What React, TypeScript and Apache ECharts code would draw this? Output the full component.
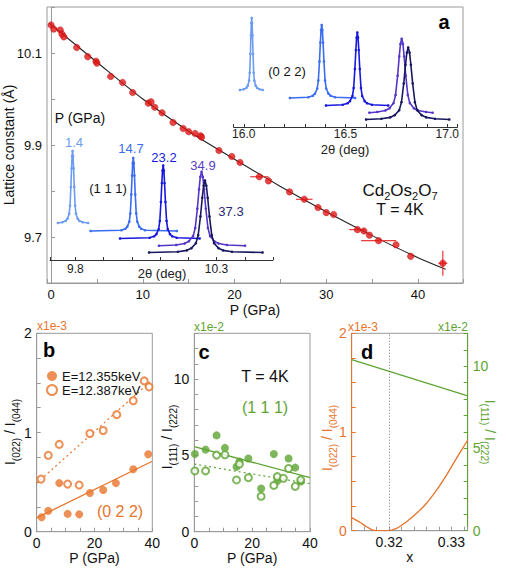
import React, { useEffect, useRef } from 'react';
import * as echarts from 'echarts';

const FONT = '"Liberation Sans", Arial, Helvetica, sans-serif';
const ORANGE = '#e8742c';
const GREEN = '#5ea432';
const RED = '#e01818';
const FRAME = '#9a9a9a';

// ---------- Panel a : lattice constant vs pressure ----------
const pressureA = [0.0, 0.3, 1.0, 1.2, 1.4, 2.8, 4.0, 4.9, 5.0, 6.5, 7.8, 8.9, 10.6, 10.9, 11.3, 12.1, 13.3, 14.4, 15.0, 15.7, 16.3, 16.4, 18.3, 19.7, 20.6, 22.7, 23.7, 26.0, 27.6, 29.1, 30.0, 30.8, 33.4, 34.1, 34.7, 35.7, 37.6, 39.2, 42.7];
const latticeA = [10.161, 10.152, 10.150, 10.141, 10.135, 10.112, 10.092, 10.082, 10.078, 10.049, 10.036, 10.014, 9.991, 9.994, 9.982, 9.970, 9.949, 9.936, 9.929, 9.925, 9.920, 9.917, 9.888, 9.875, 9.862, 9.831, 9.822, 9.798, 9.782, 9.764, 9.753, 9.749, 9.716, 9.713, 9.704, 9.692, 9.683, 9.658, 9.643];
const fitP = [-0.2, 5, 10, 15, 20, 25, 30, 35, 40, 43];
const fitA = [10.165, 10.080, 10.000, 9.930, 9.869, 9.810, 9.755, 9.703, 9.655, 9.630];
const errP = [22.7, 27.6, 33.4, 35.7, 42.7];
const errA = [9.831, 9.782, 9.716, 9.692, 9.643];
const errDP = [1.0, 0.9, 0.9, 1.9, 0.5];
const errDA = [0, 0, 0, 0, 0.027];

// ---------- Insets : diffraction peaks ----------
const peakLabels = ['1.4', '14.7', '23.2', '34.9', '37.3'];
const peak111Center = [9.790, 10.005, 10.111, 10.247, 10.259];
const peak111Start = [9.738, 9.854, 9.958, 10.096, 10.061];
const peak111End = [9.845, 10.159, 10.240, 10.401, 10.463];
const peak111Width = [0.006, 0.007, 0.008, 0.015, 0.016];
const peak022Center = [16.039, 16.383, 16.558, 16.776, 16.808];
const peak022Start = [15.981, 16.227, 16.404, 16.617, 16.601];
const peak022End = [16.093, 16.547, 16.710, 16.928, 17.010];
const peak022Width = [0.0065, 0.011, 0.012, 0.020, 0.022];
const peakBase = [37, 29, 21.5, 14.3, 7.5];
const peakHeight = [72, 73, 73, 74, 72];
const profileOffset = [-6, -4, -3, -2, -1.5, -1, -0.6, -0.3, 0, 0.3, 0.6, 1, 1.5, 2, 3, 4, 6];
const profileValue = [0.01, 0.03, 0.06, 0.13, 0.24, 0.5, 0.76, 0.93, 1, 0.93, 0.76, 0.5, 0.24, 0.13, 0.06, 0.03, 0.01];

// ---------- Panel b ----------
const pB = [1.7, 4.0, 7.8, 10.7, 14.7, 18.4, 23.0, 27.4, 33.4, 38.6];
const bFilled = [0.145, 0.21, 0.49, 0.18, 0.175, 0.39, 0.42, 0.49, 0.63, 0.78];
const pBOpen = [1.5, 4.0, 7.8, 10.7, 14.7, 18.4, 23.0, 27.7, 33.4, 37.2, 38.9];
const bOpen = [0.53, 0.77, 0.88, 0.48, 0.47, 0.99, 1.02, 1.18, 1.32, 1.52, 1.46];
const fitBP = [0, 40];
const fitBFilled = [0.14, 0.71];
const fitBOpen = [0.49, 1.53];

// ---------- Panel c ----------
const pC = [0.2, 3.9, 7.7, 10.6, 14.6, 15.6, 18.7, 23.1, 27.5, 28.7, 32.6, 34.9, 36.8];
const cFilled = [5.09, 5.38, 6.31, 5.49, 4.25, 4.6, 4.8, 2.83, 5.09, 3.32, 4.8, 4.2, 3.28];
const pCOpen = [0.2, 3.9, 7.7, 10.6, 14.6, 15.6, 18.7, 23.1, 27.5, 28.7, 30.8, 32.6, 34.9, 36.8];
const cOpen = [3.98, 3.98, 5.02, 5.04, 3.39, 4.43, 3.54, 2.32, 3.03, 3.61, 3.5, 4.14, 2.97, 3.4];
const fitCP = [0, 40];
const fitCFilled = [5.57, 3.54];
const fitCOpen = [4.43, 3.14];

// ---------- Panel d ----------
const xD = [0.314, 0.3153, 0.3164, 0.3174, 0.3185, 0.3198, 0.3212, 0.3228, 0.3244, 0.3260, 0.3276, 0.3292, 0.3308, 0.3326];
const dOrange = [0.132, 0.085, 0.04, 0.007, 0, 0, 0.024, 0.09, 0.176, 0.278, 0.41, 0.564, 0.733, 0.919];
const xDGreen = [0.314, 0.3326];
const dGreen = [10.4, 8.2];
const dMarkX = [0.32];

const peakColors = ['#6b9cf0', '#3a6cf2', '#1818dd', '#5535c8', '#17175e'];
const labelColors = ['#6b9cf0', '#3a6cf2', '#1818dd', '#5a3cc8', '#2a2a72'];

function peakData(c: number, w: number, s: number, e: number, base: number, h: number) {
  const pts: number[][] = [[s, base]];
  for (let k = 0; k < profileOffset.length; k++) {
    const x = c + profileOffset[k] * w;
    if (x > s && x < e) pts.push([x, base + profileValue[k] * h]);
  }
  pts.push([e, base]);
  return pts;
}

const zip = (a: number[], b: number[]) => a.map((v, i) => [v, b[i]]);

function txt(x: number, y: number, text: string, size: number, color: string, extra: any = {}) {
  return {
    type: 'text', x, y, silent: true, z: 100,
    style: { text, fontSize: size, fontFamily: FONT, fill: color, align: 'center', verticalAlign: 'middle', ...extra },
  };
}

function ratio(x: number, y: number, a: string, b: string, color: string, rot: number) {
  return {
    type: 'text', x, y, rotation: rot, silent: true, z: 100,
    style: {
      text: `{m|I}{s|${a}}{m| / I}{s|${b}}`,
      align: 'center', verticalAlign: 'middle',
      rich: {
        m: { fontSize: 14, lineHeight: 22, verticalAlign: 'middle', fill: color, color, fontFamily: FONT },
        s: { fontSize: 10, lineHeight: 10, verticalAlign: 'bottom', fill: color, color, fontFamily: FONT },
      },
    },
  };
}

function stdAxis(gridIndex: number, color: string, labelColor: string, extra: any) {
  return {
    type: 'value', gridIndex,
    axisLine: { show: true, lineStyle: { color, width: 1 } },
    axisTick: { show: true, inside: true, length: 4, lineStyle: { color } },
    splitLine: { show: false },
    axisLabel: { color: labelColor, fontSize: 14, fontFamily: FONT, margin: 5 },
    nameTextStyle: { color: '#111', fontSize: 14, fontFamily: FONT },
    nameMoveOverlap: false,
    ...extra,
  };
}

const G = { containLabel: false, outerBoundsMode: 'none' };

function buildOption() {
  const inset: any[] = [];
  peakLabels.forEach((_, i) => {
    const common = {
      type: 'line', symbol: 'circle', symbolSize: 2.6, showSymbol: true, showAllSymbol: true,
      lineStyle: { color: peakColors[i], width: 1.6 }, itemStyle: { color: peakColors[i] }, z: 5 + i, silent: true,
    };
    inset.push({ ...common, xAxisIndex: 1, yAxisIndex: 1, data: peakData(peak111Center[i], peak111Width[i], peak111Start[i], peak111End[i], peakBase[i], peakHeight[i]) });
    inset.push({ ...common, xAxisIndex: 2, yAxisIndex: 2, data: peakData(peak022Center[i], peak022Width[i], peak022Start[i], peak022End[i], peakBase[i], peakHeight[i]) });
  });

  const near = (v: number, t: number) => Math.abs(v - t) < 1e-6;

  return {
    animation: false,
    textStyle: { fontFamily: FONT },
    grid: [
      { ...G, left: 47, top: 7, width: 416, height: 276, show: true, borderColor: FRAME, borderWidth: 1 },
      { ...G, left: 50, top: 140, width: 223, height: 120 },
      { ...G, left: 233.6, top: 7, width: 223.85, height: 120 },
      { ...G, left: 36.7, top: 333.3, width: 115.6, height: 198.4, show: true, borderColor: FRAME, borderWidth: 1 },
      { ...G, left: 194.3, top: 333.3, width: 115.7, height: 198.4, show: true, borderColor: FRAME, borderWidth: 1 },
      { ...G, left: 351.7, top: 333.3, width: 116, height: 197.4, show: true, borderColor: FRAME, borderWidth: 1 },
    ],
    legend: {
      orient: 'vertical', left: 41, top: 364.5, itemWidth: 10, itemHeight: 10, itemGap: 1,
      textStyle: { color: '#111', fontSize: 13, fontFamily: FONT },
      data: [{ name: 'E=12.355keV', icon: 'circle' }, { name: 'E=12.387keV', icon: 'emptyCircle' }],
    },
    xAxis: [
      stdAxis(0, FRAME, '#111', {
        min: -0.44, max: 44.9, splitNumber: 9,
        axisLabel: { color: '#111', fontSize: 13, fontFamily: FONT, margin: 5, formatter: (v: number) => (v >= 0 && v <= 40 && near(v % 10, 0) ? String(v) : '') },
        name: 'P (GPa)', nameLocation: 'middle', nameGap: 20,
      }),
      {
        type: 'value', gridIndex: 1, min: 9.71, max: 10.5, splitNumber: 8,
        axisLine: { lineStyle: { color: '#333' } },
        axisTick: { inside: true, length: 3, lineStyle: { color: '#333' } },
        splitLine: { show: false },
        axisLabel: { color: '#222', fontSize: 12, fontFamily: FONT, margin: 3, formatter: (v: number) => (near(v, 9.8) || near(v, 10.3) ? v.toFixed(1) : '') },
      },
      {
        type: 'value', gridIndex: 2, min: 15.95, max: 17.05, splitNumber: 11,
        axisLine: { lineStyle: { color: '#333' } },
        axisTick: { inside: true, length: 3, lineStyle: { color: '#333' } },
        splitLine: { show: false },
        axisLabel: { color: '#222', fontSize: 12, fontFamily: FONT, margin: 1, formatter: (v: number) => (near(v, 16) || near(v, 16.5) || near(v, 17) ? v.toFixed(1) : '') },
      },
      stdAxis(3, FRAME, '#111', { min: 0, max: 40, interval: 5, axisLabel: { color: '#111', fontSize: 14, fontFamily: FONT, margin: 4, formatter: (v: number) => (v % 20 === 0 ? String(v) : '') }, name: 'P (GPa)', nameLocation: 'middle', nameGap: 19 }),
      stdAxis(4, FRAME, '#111', { min: 0, max: 40, interval: 5, axisLabel: { color: '#111', fontSize: 14, fontFamily: FONT, margin: 4, formatter: (v: number) => (v % 20 === 0 ? String(v) : '') }, name: 'P (GPa)', nameLocation: 'middle', nameGap: 19 }),
      stdAxis(5, FRAME, '#111', {
        min: 0.314, max: 0.3326, interval: 0.002,
        axisLabel: { color: '#111', fontSize: 14, fontFamily: FONT, margin: 4, formatter: (v: number) => { const k = Math.round(v * 1000); return near(v * 1000, k) && k % 10 === 0 ? (k / 1000).toFixed(2) : ''; } },
        name: 'x', nameLocation: 'middle', nameGap: 19,
      }),
    ],
    yAxis: [
      stdAxis(0, FRAME, '#111', {
        min: 9.6, max: 10.2, interval: 0.1,
        axisLabel: { color: '#111', fontSize: 13, fontFamily: FONT, margin: 5, formatter: (v: number) => { const k = Math.round(v * 10); return k === 97 || k === 99 || k === 101 ? v.toFixed(1) : ''; } },
        name: 'Lattice constant (Å)', nameLocation: 'middle', nameGap: 31, nameRotate: 90,
      }),
      { type: 'value', gridIndex: 1, min: 0, max: 120, show: false },
      { type: 'value', gridIndex: 2, min: 0, max: 120, show: false },
      stdAxis(3, FRAME, '#111', { min: 0, max: 2, interval: 0.25, axisLabel: { color: '#111', fontSize: 14, fontFamily: FONT, margin: 5, formatter: (v: number) => (Number.isInteger(v) ? String(v) : '') } }),
      stdAxis(4, FRAME, '#111', { min: 0, max: 13, interval: 1, axisLabel: { color: '#111', fontSize: 14, fontFamily: FONT, margin: 5, formatter: (v: number) => (v % 5 === 0 ? String(v) : '') } }),
      stdAxis(5, ORANGE, ORANGE, { min: 0, max: 2, interval: 0.25, axisLabel: { color: ORANGE, fontSize: 14, fontFamily: FONT, margin: 5, formatter: (v: number) => (Number.isInteger(v) ? String(v) : '') } }),
      stdAxis(5, GREEN, GREEN, { position: 'right', min: 0, max: 12, interval: 1, axisLabel: { color: GREEN, fontSize: 14, fontFamily: FONT, margin: 5, formatter: (v: number) => (v % 5 === 0 ? String(v) : '') } }),
    ],
    series: [
      {
        type: 'line', xAxisIndex: 0, yAxisIndex: 0, data: zip(fitP, fitA), smooth: 0.3, symbol: 'none',
        lineStyle: { color: '#222', width: 1.1 }, z: 2, silent: true,
      },
      {
        type: 'custom', xAxisIndex: 0, yAxisIndex: 0, z: 3, silent: true,
        encode: { x: 0, y: 1 },
        data: errP.map((p, i) => [p, errA[i], errDP[i], errDA[i]]),
        renderItem: (_p: any, api: any) => {
          const p = api.value(0), a = api.value(1), dp = api.value(2), da = api.value(3);
          const l = api.coord([p - dp, a]);
          const r = api.coord([p + dp, a]);
          const children: any[] = [{ type: 'line', shape: { x1: l[0], y1: l[1], x2: r[0], y2: r[1] }, style: { stroke: '#ea3a3a', lineWidth: 1.2 } }];
          if (da > 0) {
            const t = api.coord([p, a + da]);
            const b = api.coord([p, a - da]);
            children.push({ type: 'line', shape: { x1: t[0], y1: t[1], x2: b[0], y2: b[1] }, style: { stroke: '#ea3a3a', lineWidth: 1.2 } });
          }
          return { type: 'group', children };
        },
      },
      {
        type: 'scatter', xAxisIndex: 0, yAxisIndex: 0, data: zip(pressureA, latticeA), symbolSize: 6.5,
        itemStyle: { color: RED, borderColor: '#b80000', borderWidth: 0.5 }, z: 4, silent: true,
      },
      ...inset,
      // panel b
      { type: 'line', xAxisIndex: 3, yAxisIndex: 3, data: zip(fitBP, fitBFilled), symbol: 'none', lineStyle: { color: ORANGE, width: 1.3 }, silent: true },
      { type: 'line', xAxisIndex: 3, yAxisIndex: 3, data: zip(fitBP, fitBOpen), symbol: 'none', lineStyle: { color: ORANGE, width: 1.2, type: [2, 3] }, silent: true },
      { name: 'E=12.355keV', type: 'scatter', xAxisIndex: 3, yAxisIndex: 3, data: zip(pB, bFilled), symbol: 'circle', symbolSize: 8, itemStyle: { color: ORANGE }, z: 4, silent: true },
      { name: 'E=12.387keV', type: 'scatter', xAxisIndex: 3, yAxisIndex: 3, data: zip(pBOpen, bOpen), symbol: 'emptyCircle', symbolSize: 7, itemStyle: { color: ORANGE, borderWidth: 1.3 }, z: 5, silent: true },
      // panel c
      { type: 'line', xAxisIndex: 4, yAxisIndex: 4, data: zip(fitCP, fitCFilled), symbol: 'none', lineStyle: { color: GREEN, width: 1.3 }, silent: true },
      { type: 'line', xAxisIndex: 4, yAxisIndex: 4, data: zip(fitCP, fitCOpen), symbol: 'none', lineStyle: { color: GREEN, width: 1.2, type: [2, 3] }, silent: true },
      { type: 'scatter', xAxisIndex: 4, yAxisIndex: 4, data: zip(pC, cFilled), symbol: 'circle', symbolSize: 8, itemStyle: { color: GREEN }, z: 4, silent: true },
      { type: 'scatter', xAxisIndex: 4, yAxisIndex: 4, data: zip(pCOpen, cOpen), symbol: 'emptyCircle', symbolSize: 7, itemStyle: { color: GREEN, borderWidth: 1.3 }, z: 5, silent: true },
      // panel d
      {
        type: 'line', xAxisIndex: 5, yAxisIndex: 5, data: zip(xD, dOrange), smooth: 0.3, symbol: 'none', lineStyle: { color: ORANGE, width: 1.3 }, silent: true,
        markLine: { silent: true, symbol: ['none', 'none'], label: { show: false }, lineStyle: { color: '#777', type: [1, 2], width: 1 }, data: dMarkX.map((v) => ({ xAxis: v })) },
      },
      { type: 'line', xAxisIndex: 5, yAxisIndex: 6, data: zip(xDGreen, dGreen), symbol: 'none', lineStyle: { color: GREEN, width: 1.3 }, silent: true },
    ],
    graphic: [
      txt(444, 22, 'a', 20, '#000', { fontWeight: 'bold' }),
      {
        type: 'text', x: 400, y: 190, silent: true, z: 100,
        style: {
          text: '{m|Cd}{s|2}{m|Os}{s|2}{m|O}{s|7}', align: 'center', verticalAlign: 'middle',
          rich: {
            m: { fontSize: 17, lineHeight: 22, fill: '#111', color: '#111', fontFamily: FONT },
            s: { fontSize: 11, lineHeight: 11, verticalAlign: 'bottom', fill: '#111', color: '#111', fontFamily: FONT },
          },
        },
      },
      txt(400, 209, 'T = 4K', 16, '#111'),
      txt(80, 118, 'P (GPa)', 14, '#111'),
      txt(108, 188, '(1 1 1)', 13, '#111'),
      txt(287, 71, '(0 2 2)', 13, '#111'),
      txt(162, 273, '2θ (deg)', 13, '#222'),
      txt(345, 149, '2θ (deg)', 13, '#222'),
      txt(74, 142, peakLabels[0], 13, labelColors[0]),
      txt(131, 148, peakLabels[1], 13, labelColors[1]),
      txt(164, 157, peakLabels[2], 13, labelColors[2]),
      txt(203, 165, peakLabels[3], 13, labelColors[3]),
      txt(231, 211, peakLabels[4], 13, labelColors[4]),
      // panel b
      txt(49, 350, 'b', 20, '#000', { fontWeight: 'bold' }),
      txt(37, 326, 'x1e-3', 12, ORANGE, { align: 'left' }),
      txt(120, 511, '(0 2 2)', 16, ORANGE),
      ratio(10, 432, '(022)', '(044)', '#111', Math.PI / 2),
      // panel c
      txt(204, 352, 'c', 20, '#000', { fontWeight: 'bold' }),
      txt(194, 327, 'x1e-2', 12, GREEN, { align: 'left' }),
      txt(265, 376, 'T = 4K', 16, '#111'),
      txt(265, 407, '(1 1 1)', 16, GREEN),
      ratio(167, 437, '(111)', '(222)', '#111', Math.PI / 2),
      // panel d
      txt(367, 352, 'd', 20, '#000', { fontWeight: 'bold' }),
      txt(348, 327, 'x1e-3', 12, ORANGE, { align: 'left' }),
      txt(468, 327, 'x1e-2', 12, GREEN, { align: 'right' }),
      ratio(327, 438, '(022)', '(044)', ORANGE, Math.PI / 2),
      ratio(490, 432, '(111)', '(222)', GREEN, -Math.PI / 2),
    ],
  };
}

export default function App() {
  const ref = useRef<HTMLDivElement>(null);
  useEffect(() => {
    if (!ref.current) return;
    const chart = echarts.init(ref.current, null, { renderer: 'svg' });
    chart.setOption(buildOption() as any);
    return () => chart.dispose();
  }, []);
  return <div ref={ref} style={{ position: 'fixed', left: 0, top: 0, width: 506, height: 569, background: '#fff' }} />;
}
